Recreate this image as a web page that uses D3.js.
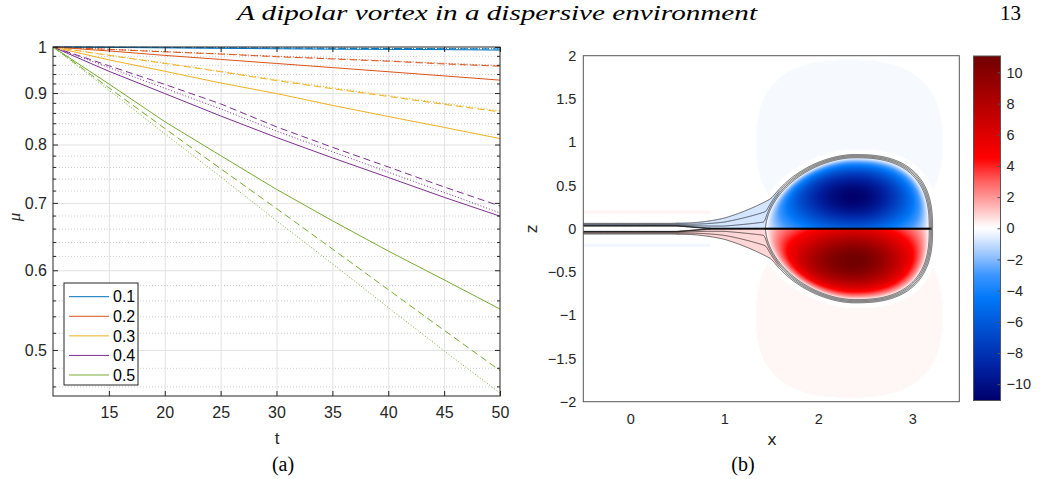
<!DOCTYPE html>
<html>
<head>
<meta charset="utf-8">
<script src="https://cdn.jsdelivr.net/npm/d3@7"></script>
<style>
  body { margin: 0; background: #fff; }
  svg { display: block; }
</style>
</head>
<body>
<svg id="fig" width="1040" height="479"></svg>
<script>
// ---------- data, panel (a): mu(t) on a log axis ----------
const tValues = [10, 15, 20, 25, 30, 35, 40, 45, 50];
const amplitudes = ["0.1", "0.2", "0.3", "0.4", "0.5"];
const seriesColors = ["#0072BD", "#D95319", "#EDB120", "#7E2F8E", "#77AC30"];
const muSolid = [
  [1, 0.999, 0.998, 0.997, 0.996, 0.995, 0.9945, 0.994, 0.993],
  [1, 0.991, 0.981, 0.972, 0.963, 0.954, 0.945, 0.936, 0.927],
  [1, 0.971, 0.946, 0.921, 0.899, 0.875, 0.853, 0.832, 0.811],
  [1, 0.946, 0.899, 0.854, 0.813, 0.776, 0.742, 0.709, 0.679],
  [1, 0.919, 0.843, 0.780, 0.722, 0.672, 0.627, 0.587, 0.549]
];
const muDashed = [
  [1, 0.9995, 0.999, 0.998, 0.9975, 0.997, 0.9965, 0.996, 0.9955],
  [1, 0.9945, 0.989, 0.984, 0.978, 0.973, 0.968, 0.962, 0.957],
  [1, 0.981, 0.963, 0.945, 0.926, 0.909, 0.893, 0.877, 0.862],
  [1, 0.958, 0.918, 0.878, 0.833, 0.795, 0.760, 0.726, 0.695],
  [1, 0.911, 0.830, 0.757, 0.691, 0.630, 0.574, 0.523, 0.477]
];
const muDotted = [
  [1, 0.9995, 0.999, 0.9985, 0.998, 0.9975, 0.997, 0.9965, 0.996],
  [1, 0.995, 0.9895, 0.9845, 0.979, 0.974, 0.969, 0.9635, 0.9585],
  [1, 0.982, 0.964, 0.946, 0.928, 0.911, 0.895, 0.879, 0.864],
  [1, 0.954, 0.910, 0.868, 0.825, 0.787, 0.751, 0.717, 0.684],
  [1, 0.906, 0.820, 0.743, 0.672, 0.609, 0.551, 0.499, 0.453]
];
const tTicks = [15, 20, 25, 30, 35, 40, 45, 50];
const muTicks = [0.5, 0.6, 0.7, 0.8, 0.9, 1];
const muMinorTicks = [0.46, 0.48, 0.52, 0.54, 0.56, 0.58, 0.62, 0.64, 0.66, 0.68,
  0.72, 0.74, 0.76, 0.78, 0.82, 0.84, 0.86, 0.88, 0.92, 0.94, 0.96, 0.98];

// ---------- data, panel (b): vorticity dipole ----------
const xTicksB = [0, 1, 2, 3];
const zTicks = [-2, -1.5, -1, -0.5, 0, 0.5, 1, 1.5, 2];
const cbTicks = [-10, -8, -6, -4, -2, 0, 2, 4, 6, 8, 10];
const cmapValues = [-11.05, -9, -6.5, -4.5, -3, -1.5, -0.3, 0, 0.3, 1.5, 3, 4.5, 7, 11.05];
const cmapColors = ["#00006a", "#0020a0", "#0050d0", "#0078f8", "#3c96ff", "#a8ccff", "#f2f7ff",
  "#ffffff", "#fff2f2", "#ffb0b0", "#ff6060", "#ff0000", "#c80000", "#700000"];
const lobeX = [1.44, 2.38, 3.18];      // left edge, core, right edge
const lobeTop = 0.82;                  // height of each lobe
const lobeShape = [1.8, 2.6];          // rounding of left / right side
const lobeCore = [0, 0.45];            // core position, in lobe units
const peakVorticity = 11;
const contourLevels = [1.0, 1.015, 1.03, 1.045];
const wakeEllipse = [2.33, 1.0, 0.99, 0.95];
const wakeVorticity = 0.2;
const tailVorticity = 0.8;
const stripBand = [0.17, 0.21, 0.85];
const stripVorticity = 0.3;

const svg = d3.select("#fig");
const ink = "#262626";
const defs = svg.append("defs");

// ================= panel (a) =================
const xA = d3.scaleLinear().domain([10, 50]).range([53, 500]);
const yA = d3.scaleLog().domain([0.45, 1]).range([396, 47]);
const gA = svg.append("g").attr("font-family", "'Liberation Sans', Arial, sans-serif");

defs.append("clipPath").attr("id", "clipA").append("rect")
  .attr("x", 53).attr("y", 46).attr("width", 447).attr("height", 350);

// minor grid (dotted)
gA.append("g").call(d3.axisLeft(yA).tickValues(muMinorTicks).tickSize(-447).tickFormat(""))
  .attr("transform", "translate(53,0)")
  .call(g => g.select(".domain").remove())
  .call(g => g.selectAll("line").attr("stroke", "#c2c2c2").attr("stroke-width", 0.8).attr("stroke-dasharray", "1,2"));
// major grid
gA.append("g").call(d3.axisLeft(yA).tickValues(muTicks.slice(0, 5)).tickSize(-447).tickFormat(""))
  .attr("transform", "translate(53,0)")
  .call(g => g.select(".domain").remove())
  .call(g => g.selectAll("line").attr("stroke", "#e2e2e2"));
gA.append("g").call(d3.axisBottom(xA).tickValues(tTicks.slice(0, 7)).tickSize(-349).tickFormat(""))
  .attr("transform", "translate(0,396)")
  .call(g => g.select(".domain").remove())
  .call(g => g.selectAll("line").attr("stroke", "#e2e2e2"));

// curves
const lineA = d3.line().x((d, i) => xA(tValues[i])).y(d => yA(d));
const curves = gA.append("g").attr("clip-path", "url(#clipA)").attr("fill", "none").attr("stroke-width", 1);
[[muDotted, "1,2"], [muDashed, "7,4"], [muSolid, null]].forEach(([set, dash]) => {
  curves.append("g").selectAll("path").data(set).join("path")
    .attr("d", lineA)
    .attr("stroke", (d, i) => seriesColors[i])
    .attr("stroke-dasharray", dash);
});

// frame and ticks
gA.append("rect").attr("x", 53).attr("y", 47).attr("width", 447).attr("height", 349)
  .attr("fill", "none").attr("stroke", ink).attr("stroke-width", 1);

const tickStyle = g => {
  g.select(".domain").remove();
  g.selectAll("line").attr("stroke", ink);
  g.selectAll("text").attr("fill", ink).attr("font-size", 16);
};
gA.append("g").attr("transform", "translate(53,0)")
  .call(d3.axisLeft(yA).tickValues(muTicks).tickSize(-5).tickPadding(6).tickFormat(d3.format("~g")))
  .call(tickStyle);
gA.append("g").attr("transform", "translate(53,0)")
  .call(d3.axisLeft(yA).tickValues(muMinorTicks).tickSize(-3).tickFormat("")).call(tickStyle);
gA.append("g").attr("transform", "translate(500,0)")
  .call(d3.axisRight(yA).tickValues(muTicks).tickSize(-5).tickFormat("")).call(tickStyle);
gA.append("g").attr("transform", "translate(500,0)")
  .call(d3.axisRight(yA).tickValues(muMinorTicks).tickSize(-3).tickFormat("")).call(tickStyle);
gA.append("g").attr("transform", "translate(0,396)")
  .call(d3.axisBottom(xA).tickValues(tTicks).tickSize(-5).tickPadding(11)).call(tickStyle);
gA.append("g").attr("transform", "translate(0,47)")
  .call(d3.axisTop(xA).tickValues(tTicks).tickSize(-5).tickFormat("")).call(tickStyle);

gA.append("text").attr("x", 277).attr("y", 444).attr("text-anchor", "middle")
  .attr("font-size", 17).attr("fill", ink).text("t");
gA.append("text").attr("transform", "translate(20,217) rotate(-90)").attr("text-anchor", "middle")
  .attr("font-family", "'Liberation Serif', serif").attr("font-style", "italic")
  .attr("font-size", 17).attr("fill", ink).text("μ");

// legend
const legend = gA.append("g");
legend.append("rect").attr("x", 64).attr("y", 283).attr("width", 74).attr("height", 102)
  .attr("fill", "#fff").attr("stroke", ink).attr("stroke-width", 1);
const legRow = d3.scalePoint().domain(amplitudes).range([296.7, 375]);
legend.selectAll("line.leg").data(amplitudes).join("line").attr("class", "leg")
  .attr("x1", 69).attr("x2", 109)
  .attr("y1", d => legRow(d)).attr("y2", d => legRow(d))
  .attr("stroke", (d, i) => seriesColors[i]).attr("stroke-width", 1);
legend.selectAll("text").data(amplitudes).join("text")
  .attr("x", 113).attr("y", d => legRow(d)).attr("dy", "0.36em")
  .attr("font-size", 16).attr("fill", "#000").text(d => d);

// ================= panel (b) =================
const xB = d3.scaleLinear().domain([-0.5, 3.5]).range([583.3, 959.3]);
const zB = d3.scaleLinear().domain([-2, 2]).range([401.7, 55.7]);
const colorScale = d3.scaleLinear().domain(cmapValues).range(cmapColors).clamp(true);
const gB = svg.append("g").attr("font-family", "'DejaVu Sans', sans-serif");

function lobeCoords(x, az) {
  const left = x < lobeX[1];
  const X = left ? (lobeX[1] - x) / (lobeX[1] - lobeX[0]) : (x - lobeX[1]) / (lobeX[2] - lobeX[1]);
  return [X, az / lobeTop, left ? lobeShape[0] : lobeShape[1]];
}
function lobeRadius(x, az) {
  const [X, Z, p] = lobeCoords(x, az);
  return Math.pow(Math.pow(X, p) + Math.pow(Z, p), 1 / p);
}

// streamline-like level: the lobe plus the thin wake tail trailing to the left
function streamLevel(x, az) {
  const r = lobeRadius(x, az);
  const f = Math.min(20, 1 + 10 * Math.pow(Math.max(0, x - 0.4), 2));
  const zb = 0.035 * Math.min(1, Math.max(0, (1.0 - x) / 0.5));
  const d = az > zb ? az - zb : 6 * (zb - az);
  const t = 1.005 + 1.5 * d / f + 40 * Math.pow(Math.max(0, x - 1.75), 2);
  const k = 0.006, m = Math.min(r, t);
  return m - k * Math.log(Math.exp((m - r) / k) + Math.exp((m - t) / k));
}

function vorticity(x, z) {
  const az = Math.abs(z), sgn = z >= 0 ? -1 : 1;
  const r = lobeRadius(x, az);
  if (r < 1) {
    const [X, Z] = lobeCoords(x, az);
    const d2 = Math.pow(X - lobeCore[0], 2) + Math.pow((Z - lobeCore[1]) / 0.62, 2);
    return sgn * peakVorticity * Math.exp(-d2 / 0.8) * (1 - Math.pow(r, 12));
  }
  if (x < lobeX[0] + 0.15 && streamLevel(x, az) < contourLevels[3]) return sgn * tailVorticity;
  const X = Math.abs(x - wakeEllipse[0]) / wakeEllipse[2];
  const Zw = Math.abs(az - wakeEllipse[1]) / wakeEllipse[3];
  if (Math.pow(X, 2.6) + Math.pow(Zw, 2.6) < 1 && r > 1.12 && az > 0.4) return sgn * wakeVorticity;
  if (az > stripBand[0] && az < stripBand[1] && x < stripBand[2]) return -sgn * stripVorticity;
  return 0;
}

// heat map on a canvas, placed as an svg image
const px0 = xB.range()[0], py0 = zB.range()[1];
const pw = Math.round(xB.range()[1] - px0), ph = Math.round(zB.range()[0] - py0);
const cnv = document.createElement("canvas");
cnv.width = pw; cnv.height = ph;
const ctx = cnv.getContext("2d");
const img = ctx.createImageData(pw, ph);
for (let j = 0; j < ph; j++) {
  const z = zB.invert(py0 + j + 0.5);
  for (let i = 0; i < pw; i++) {
    const x = xB.invert(px0 + i + 0.5);
    const c = d3.rgb(colorScale(vorticity(x, z)));
    const o = 4 * (j * pw + i);
    img.data[o] = c.r; img.data[o + 1] = c.g; img.data[o + 2] = c.b; img.data[o + 3] = 255;
  }
}
ctx.putImageData(img, 0, 0);
gB.append("image").attr("x", px0).attr("y", py0).attr("width", pw).attr("height", ph)
  .attr("preserveAspectRatio", "none").attr("href", cnv.toDataURL());

// contour lines from the level field, one grid per half
defs.append("clipPath").attr("id", "clipB").append("rect")
  .attr("x", px0).attr("y", py0).attr("width", pw).attr("height", ph);
const step = 0.005, gx0 = -0.5, gz0 = 0.004, nx = 800, nz = 400;
const levels = new Float64Array(nx * nz);
for (let j = 0; j < nz; j++)
  for (let i = 0; i < nx; i++)
    levels[j * nx + i] = -streamLevel(gx0 + (i + 0.5) * step, gz0 + (j + 0.5) * step);
const rings = d3.contours().size([nx, nz]).thresholds(contourLevels.map(L => -L))(levels);
const gCont = gB.append("g").attr("clip-path", "url(#clipB)")
  .attr("fill", "none").attr("stroke", "#000").attr("stroke-width", 0.6);
[1, -1].forEach(side => {
  const proj = d3.geoTransform({
    point(px, py) { this.stream.point(xB(gx0 + px * step), zB(side * (gz0 + py * step))); }
  });
  gCont.append("g").selectAll("path").data(rings).join("path").attr("d", d3.geoPath(proj));
});

// frame and tick labels
gB.append("rect").attr("x", px0).attr("y", py0).attr("width", pw).attr("height", ph)
  .attr("fill", "none").attr("stroke", "#555").attr("stroke-width", 1);
gB.append("g").attr("transform", `translate(${px0},0)`)
  .call(d3.axisLeft(zB).tickValues(zTicks).tickSize(0).tickPadding(7).tickFormat(d3.format("~g")))
  .call(g => { g.select(".domain").remove(); g.selectAll("text").attr("font-size", 14.5).attr("fill", ink); });
gB.append("g").attr("transform", `translate(0,${zB.range()[0]})`)
  .call(d3.axisBottom(xB).tickValues(xTicksB).tickSize(0).tickPadding(12).tickFormat(d3.format("d")))
  .call(g => { g.select(".domain").remove(); g.selectAll("text").attr("font-size", 14.5).attr("fill", ink); });
gB.append("text").attr("x", 772).attr("y", 445).attr("text-anchor", "middle")
  .attr("font-size", 16).attr("fill", ink).text("x");
gB.append("text").attr("transform", "translate(537,229) rotate(-90)").attr("text-anchor", "middle")
  .attr("font-size", 16).attr("fill", ink).text("z");

// colour bar
const cB = d3.scaleLinear().domain([-11.05, 11.05]).range([400.5, 56]);
const grad = defs.append("linearGradient").attr("id", "cbar")
  .attr("x1", 0).attr("y1", 1).attr("x2", 0).attr("y2", 0);
grad.selectAll("stop").data(cmapValues).join("stop")
  .attr("offset", d => (d - cmapValues[0]) / (cmapValues[cmapValues.length - 1] - cmapValues[0]))
  .attr("stop-color", (d, i) => cmapColors[i]);
gB.append("rect").attr("x", 973.5).attr("y", 56).attr("width", 27).attr("height", 344.5)
  .attr("fill", "url(#cbar)").attr("stroke", "#555").attr("stroke-width", 1);
gB.append("g").attr("transform", "translate(1000.5,0)")
  .call(d3.axisRight(cB).tickValues(cbTicks).tickSize(-3).tickPadding(6))
  .call(g => {
    g.select(".domain").remove();
    g.selectAll("line").attr("stroke", "#555");
    g.selectAll("text").attr("font-size", 14.5).attr("fill", ink);
  });

// ================= page text =================
const serif = "'Liberation Serif', 'Times New Roman', serif";
svg.append("text").attr("x", 237).attr("y", 20)
  .attr("font-family", serif).attr("font-style", "italic").attr("font-size", 21)
  .attr("textLength", 520).attr("lengthAdjust", "spacingAndGlyphs")
  .text("A dipolar vortex in a dispersive environment");
svg.append("text").attr("x", 1021).attr("y", 20).attr("text-anchor", "end")
  .attr("font-family", serif).attr("font-size", 21).text("13");
svg.append("text").attr("x", 283).attr("y", 471).attr("text-anchor", "middle")
  .attr("font-family", serif).attr("font-size", 20).text("(a)");
svg.append("text").attr("x", 743).attr("y", 471).attr("text-anchor", "middle")
  .attr("font-family", serif).attr("font-size", 20).text("(b)");
</script>
</body>
</html>
